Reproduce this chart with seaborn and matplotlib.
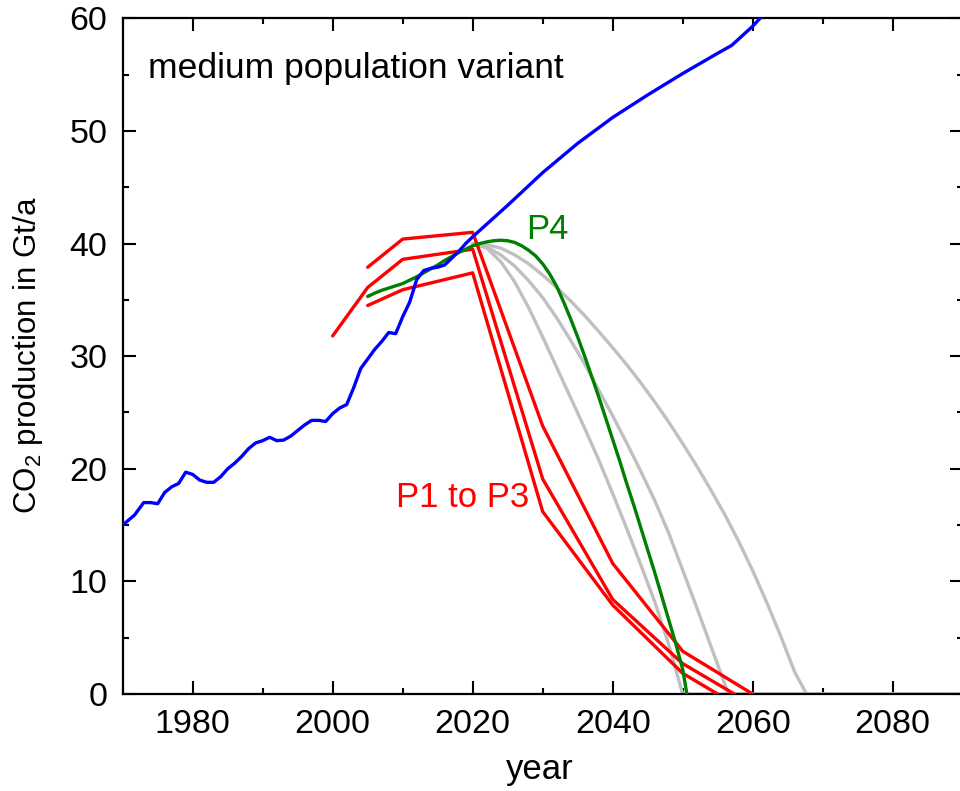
import numpy as np
import pandas as pd
import matplotlib
matplotlib.use("Agg")
import matplotlib.pyplot as plt
import seaborn as sns
from matplotlib.ticker import MultipleLocator

# ---- historical CO2 emissions (Gt/a) ----
hist_years = [1970, 1971.7, 1973, 1974, 1975, 1976, 1977, 1978, 1979, 1980,
              1981, 1982, 1983, 1984, 1985, 1986, 1987, 1988, 1989, 1990,
              1991, 1992, 1993, 1994, 1995, 1996, 1997, 1998, 1999, 2000,
              2001, 2002, 2003, 2004, 2006, 2007, 2008, 2009, 2010, 2011,
              2012, 2013, 2014, 2015, 2016, 2017, 2018, 2019, 2020]
hist_co2 = [15.0, 15.9, 17.0, 17.0, 16.9, 17.9, 18.4, 18.7, 19.7, 19.5,
            19.0, 18.8, 18.8, 19.3, 20.0, 20.5, 21.1, 21.8, 22.3, 22.5,
            22.8, 22.5, 22.55, 22.9, 23.4, 23.9, 24.3, 24.3, 24.2, 24.9,
            25.4, 25.7, 27.2, 28.9, 30.6, 31.3, 32.1, 32.0, 33.5, 34.8,
            36.8, 37.6, 37.8, 37.9, 38.1, 38.7, 39.3, 40.0, 40.6]

# ---- business-as-usual projection ----
proj_years = [2020, 2025, 2030, 2035, 2040, 2045, 2050, 2055, 2057, 2060, 2064]
proj_co2 = [40.6, 43.4, 46.3, 48.9, 51.2, 53.2, 55.1, 56.9, 57.6, 59.3, 62.0]

# ---- reduction paths P1 to P3 ----
p1_years = [2005, 2010, 2020, 2030, 2040, 2050, 2060]
p1_co2 = [37.9, 40.4, 41.0, 23.8, 11.6, 3.8, 0.0]
p2_years = [2000, 2005, 2010, 2020, 2030, 2040, 2050, 2057.4]
p2_co2 = [31.8, 36.1, 38.6, 39.5, 19.1, 8.4, 2.7, 0.0]
p3_years = [2005, 2010, 2020, 2030, 2040, 2050, 2055]
p3_co2 = [34.5, 35.9, 37.4, 16.2, 7.9, 1.84, 0.0]

# ---- path P4 ----
p4_years = [2005, 2006, 2007, 2008, 2009, 2010, 2011, 2012, 2013, 2014,
            2015, 2016, 2017, 2018, 2019, 2020, 2021, 2022, 2023, 2024,
            2025, 2026, 2027, 2028, 2029, 2030, 2031, 2032, 2033, 2034,
            2035, 2036, 2037, 2038, 2039, 2040, 2041, 2042, 2043, 2044,
            2045, 2046, 2047, 2048, 2049, 2050, 2050.6]
p4_co2 = [35.3, 35.6, 35.85, 36.05, 36.25, 36.45, 36.75, 37.05, 37.4, 37.75,
          38.1, 38.5, 38.85, 39.2, 39.5, 39.8, 40.0, 40.15, 40.25, 40.3,
          40.25, 40.1, 39.8, 39.4, 38.9, 38.2, 37.3, 36.2, 34.8, 33.3,
          31.7, 30.0, 28.2, 26.4, 24.5, 22.6, 20.7, 18.7, 16.8, 14.8,
          12.8, 10.8, 8.7, 6.6, 4.5, 2.2, 0.0]

# ---- alternative paths (grey) ----
ga_years = [2020, 2022, 2024, 2026, 2028, 2030, 2032, 2034, 2036, 2038, 2040,
            2042, 2044, 2046, 2048, 2050, 2090]
ga_co2 = [40.0, 39.6, 38.4, 36.6, 34.3, 31.7, 29.0, 26.3, 23.6, 20.8, 17.8,
          14.7, 11.5, 8.2, 4.4, 0.0, 0.0]
gb_years = [2020, 2022, 2024, 2026, 2028, 2030, 2032, 2034, 2036, 2038, 2040,
            2042, 2044, 2046, 2048, 2050, 2052, 2054, 2056, 2056.5, 2090]
gb_co2 = [40.0, 39.7, 39.0, 38.0, 36.7, 35.2, 33.4, 31.4, 29.3, 27.0, 24.7,
          22.3, 19.8, 17.2, 14.3, 11.0, 7.7, 4.3, 0.9, 0.0, 0.0]
gc_years = [2020, 2022, 2024, 2026, 2028, 2030, 2032, 2034, 2036, 2038, 2040,
            2042, 2044, 2046, 2048, 2050, 2052, 2054, 2056, 2058, 2060, 2062,
            2064, 2066, 2067.7, 2090]
gc_co2 = [40.0, 39.9, 39.6, 39.0, 38.2, 37.2, 36.1, 34.9, 33.6, 32.2, 30.75,
          29.25, 27.65, 25.95, 24.15, 22.25, 20.25, 18.15, 15.95, 13.55, 10.95,
          8.15, 5.15, 1.95, 0.0, 0.0]

sns.set_theme(style="ticks")
plt.rcParams["font.family"] = ["Liberation Sans", "DejaVu Sans"]
plt.rcParams["mathtext.default"] = "regular"
for key in ("text.color", "axes.labelcolor", "xtick.color", "ytick.color",
            "axes.edgecolor"):
    plt.rcParams[key] = "black"

fig = plt.figure(figsize=(9.6, 7.91), dpi=100)
ax = fig.add_axes([0.1278, 0.1226, 0.875, 0.8542])

lw = 2.4

def long_frame(paths):
    rows = []
    for name, xs, ys in paths:
        for x, y in zip(xs, ys):
            rows.append({"path": name, "year": x, "co2": y})
    return pd.DataFrame(rows)

grey = long_frame([("A", ga_years, ga_co2), ("B", gb_years, gb_co2),
                   ("C", gc_years, gc_co2)])
sns.lineplot(data=grey, x="year", y="co2", units="path", estimator=None,
             sort=False, color="#c0c0c0", linewidth=lw, ax=ax, zorder=2)

red = long_frame([("P1", p1_years, p1_co2), ("P2", p2_years, p2_co2),
                  ("P3", p3_years, p3_co2)])
sns.lineplot(data=red, x="year", y="co2", units="path", estimator=None,
             sort=False, color="#ff0000", linewidth=lw, ax=ax, zorder=3)

sns.lineplot(x=p4_years, y=p4_co2, color="#008000", linewidth=lw, ax=ax,
             zorder=4)
sns.lineplot(x=hist_years + proj_years[1:], y=hist_co2 + proj_co2[1:],
             color="#0000ff", linewidth=lw, ax=ax, zorder=5)

ax.set_xlim(1970, 2090)
ax.set_ylim(0, 60)
ax.xaxis.set_major_locator(MultipleLocator(20))
ax.xaxis.set_minor_locator(MultipleLocator(10))
ax.yaxis.set_major_locator(MultipleLocator(10))
ax.yaxis.set_minor_locator(MultipleLocator(5))
ax.tick_params(which="both", direction="in", top=True, right=True,
               width=1.5, colors="black", labelsize=24.5)
ax.tick_params(which="major", length=9.5)
ax.tick_params(which="minor", length=4.5)
ax.tick_params(axis="x", pad=11)
ax.tick_params(axis="y", pad=11)
for s in ax.spines.values():
    s.set_visible(True)
    s.set_linewidth(1.6)
    s.set_color("black")

ax.set_xlabel("year", fontsize=25)
ax.set_ylabel("CO$_2$ production in Gt/a", fontsize=22.5)
ax.xaxis.set_label_coords(0.497, -0.087)
ax.yaxis.set_label_coords(-0.093, 0.502)

ax.text(1973.6, 54.7, "medium population variant", fontsize=25.5,
        ha="left", va="baseline")
ax.text(2027.6, 40.4, "P4", fontsize=25, ha="left", va="baseline",
        color="#008000")
ax.text(2009.0, 16.65, "P1 to P3", fontsize=25, ha="left", va="baseline",
        color="#ff0000")

fig.savefig("out.png", dpi=100)
